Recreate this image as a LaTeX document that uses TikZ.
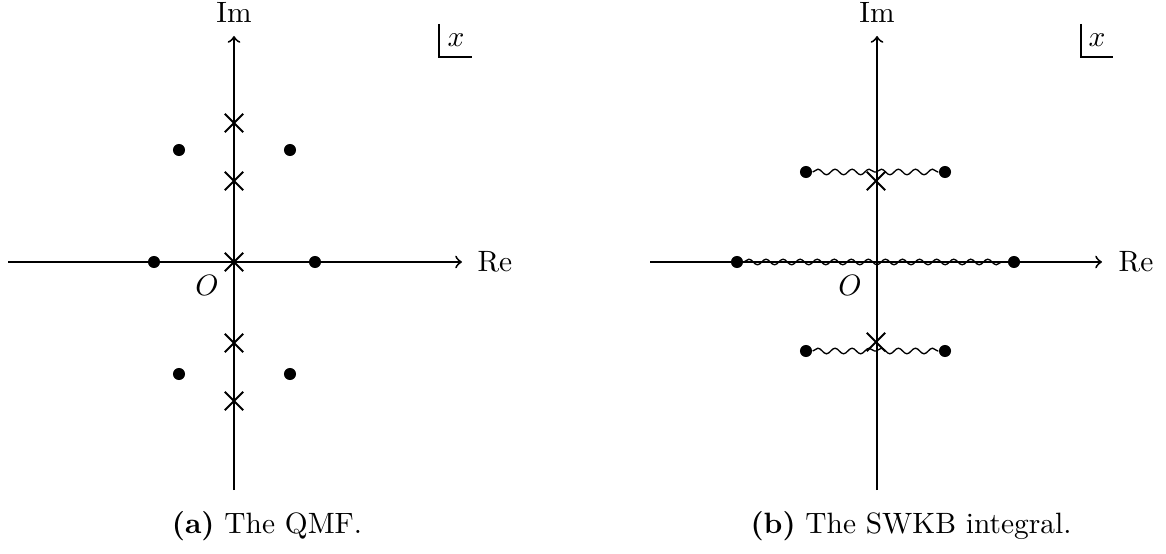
\documentclass[tikz,border=0pt]{standalone}
\usetikzlibrary{shapes.misc,decorations.pathmorphing}
\begin{document}
\begin{tikzpicture}[x=0.34pt,y=-0.34pt,
  axis/.style={line width=0.65pt,->},
  dotnode/.style={circle,fill=black,inner sep=0pt,minimum size=4.1pt},
  crossnode/.style={cross out,draw,line width=0.65pt,inner sep=0pt,minimum size=5.6pt},
  lbl/.style={inner sep=0pt},
  wave/.style={line width=0.45pt,decorate,decoration={snake,amplitude=0.95pt,segment length=5.8pt}},
  cornerln/.style={line width=0.65pt}]
\useasboundingbox (0,0) rectangle (1166,554);
% ---------- left panel ----------
\coordinate (Lxs) at (8,262);
\coordinate (Lxe) at (462,262);
\coordinate (Lys) at (234,490);
\coordinate (Lye) at (234,36);
\draw[axis] (Lxs) -- (Lxe);
\draw[axis] (Lys) -- (Lye);
\node[lbl,anchor=west] (LRe) at (477,262) {Re};
\node[lbl] (LIm) at (234,12) {Im};
\node[lbl] (LO) at (207,285) {$O$};
\coordinate (Lc1) at (439,24);
\coordinate (Lc2) at (439,57);
\coordinate (Lc3) at (472,57);
\draw[cornerln] (Lc1) -- (Lc2) -- (Lc3);
\node[lbl] (Lx) at (456,40) {$x$};
\node[crossnode] (Lk1) at (234,123) {};
\node[crossnode] (Lk2) at (234,181) {};
\node[crossnode] (Lk3) at (234,262) {};
\node[crossnode] (Lk4) at (234,343) {};
\node[crossnode] (Lk5) at (234,401) {};
\node[dotnode] (Ld1) at (179,150) {};
\node[dotnode] (Ld2) at (290,150) {};
\node[dotnode] (Ld3) at (154,262) {};
\node[dotnode] (Ld4) at (315,262) {};
\node[dotnode] (Ld5) at (179,374) {};
\node[dotnode] (Ld6) at (290,374) {};
\node[lbl] (Lcap) at (267,526) {\textbf{(a)} The QMF.};
% ---------- right panel ----------
\coordinate (Rxs) at (650,262);
\coordinate (Rxe) at (1102,262);
\coordinate (Rys) at (877,490);
\coordinate (Rye) at (877,36);
\draw[axis] (Rxs) -- (Rxe);
\draw[axis] (Rys) -- (Rye);
\node[lbl,anchor=west] (RRe) at (1118,262) {Re};
\node[lbl] (RIm) at (877,12) {Im};
\node[lbl] (RO) at (850,285) {$O$};
\coordinate (Rc1) at (1081,24);
\coordinate (Rc2) at (1081,57);
\coordinate (Rc3) at (1113,57);
\draw[cornerln] (Rc1) -- (Rc2) -- (Rc3);
\node[lbl] (Rx) at (1097,40) {$x$};
\node[crossnode] (Rk1) at (876,181) {};
\node[crossnode] (Rk2) at (876,342) {};
\node[dotnode] (Rd1) at (806,172) {};
\node[dotnode] (Rd2) at (945,172) {};
\node[dotnode] (Rd3) at (737,262) {};
\node[dotnode] (Rd4) at (1014,262) {};
\node[dotnode] (Rd5) at (806,351) {};
\node[dotnode] (Rd6) at (945,351) {};
\coordinate (Rm1) at (876,172);
\coordinate (Rm2) at (876,351);
\draw[wave] (Rd1) -- (Rm1);
\draw[wave] (Rm1) -- (Rd2);
\draw[wave] (Rd3) -- (Rd4);
\draw[wave] (Rd5) -- (Rm2);
\draw[wave] (Rm2) -- (Rd6);
\node[lbl] (Rcap) at (911,526) {\textbf{(b)} The SWKB integral.};
\end{tikzpicture}
\end{document}
